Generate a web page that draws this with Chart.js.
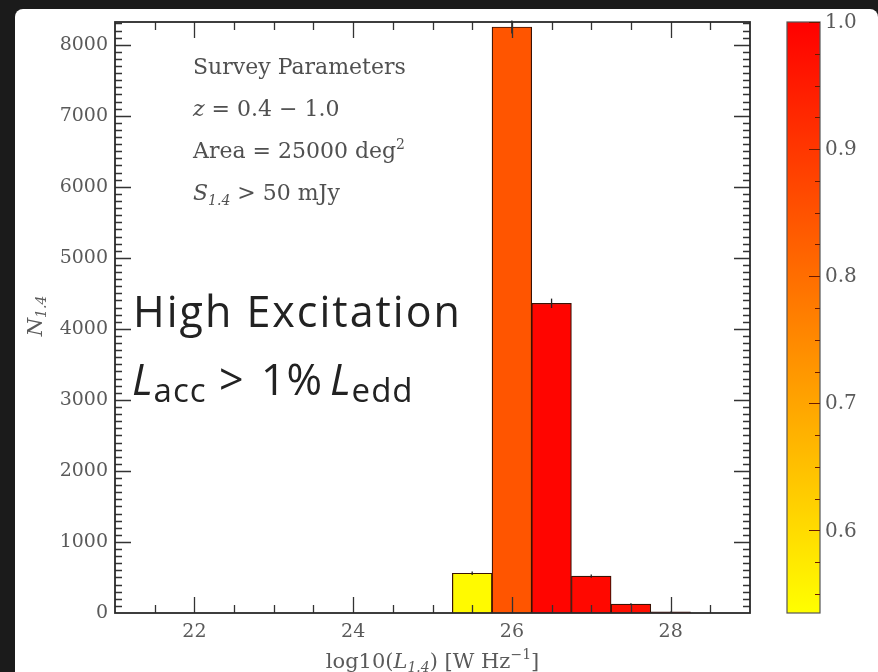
<!DOCTYPE html>
<html>
<head>
<meta charset="utf-8">
<script src="https://cdn.jsdelivr.net/npm/chart.js@4.4.1/dist/chart.umd.min.js"></script>
<style>
html, body { margin: 0; padding: 0; background: #1b1b1b; }
#myChart { display: block; }
</style>
</head>
<body>
<canvas id="myChart" width="878" height="672"></canvas>
<script>
// histogram bins (log10 L_1.4) and counts
var binCenters = [25.5, 26.0, 26.5, 27.0, 27.5, 28.0];
var counts = [560, 8250, 4360, 520, 125, 15];
var countErrors = [24, 91, 66, 23, 11, 4];
// colour value of each bar on the colour bar
var barFraction = [0.545, 0.845, 0.99, 0.985, 0.975, 1.0];

var xTicks = [22, 24, 26, 28];
var yTicks = [0, 1000, 2000, 3000, 4000, 5000, 6000, 7000, 8000];
var cbTicks = [0.6, 0.7, 0.8, 0.9, 1.0];
var cbMin = 0.535, cbMax = 1.0;

var serif = '"DejaVu Serif", "Liberation Serif", serif';
var sans = '"Open Sans", Lato, sans-serif';
var labelColor = '#5a5a5a';

// yellow -> red (autumn_r like)
function cmap(v) {
    var t = (v - cbMin) / (cbMax - cbMin);
    t = Math.max(0, Math.min(1, t));
    var g = Math.round(255 * (1 - t));
    return 'rgb(255,' + g + ',0)';
}

var barColors = barFraction.map(cmap);

// draws a list of text runs, returns end x
function drawRuns(ctx, x, y, runs) {
    runs.forEach(function (r) {
        ctx.font = r.f;
        if (r.x != null) x = r.x;
        ctx.fillText(r.t, x, y + (r.dy || 0));
        x += ctx.measureText(r.t).width;
    });
    return x;
}
function runsWidth(ctx, runs) {
    var w = 0;
    runs.forEach(function (r) { ctx.font = r.f; w += ctx.measureText(r.t).width; });
    return w;
}

var panelPlugin = {
    id: 'panel',
    beforeDraw: function (chart) {
        var ctx = chart.ctx;
        ctx.save();
        ctx.fillStyle = '#1b1b1b';
        ctx.fillRect(0, 0, chart.width, chart.height);
        ctx.fillStyle = '#ffffff';
        ctx.beginPath();
        ctx.roundRect(15, 9, chart.width - 15, chart.height - 9 + 10, 8);
        ctx.fill();
        ctx.restore();
    }
};

var decoPlugin = {
    id: 'deco',
    afterDatasetsDraw: function (chart) {
        var ctx = chart.ctx;
        var xs = chart.scales.x, ys = chart.scales.y, cs = chart.scales.cb;
        var a = chart.chartArea;
        ctx.save();

        // error bars
        ctx.strokeStyle = '#222';
        ctx.lineWidth = 1.3;
        for (var i = 0; i < binCenters.length; i++) {
            var px = xs.getPixelForValue(binCenters[i]);
            ctx.beginPath();
            ctx.moveTo(px, ys.getPixelForValue(counts[i] - countErrors[i]));
            ctx.lineTo(px, ys.getPixelForValue(counts[i] + countErrors[i]));
            ctx.stroke();
        }

        // inward ticks on all four sides
        ctx.strokeStyle = '#333';
        ctx.lineWidth = 1.3;
        ctx.beginPath();
        for (var v = 21.5; v < 29; v += 0.5) {
            var p = Math.round(xs.getPixelForValue(v)) + 0.5;
            var len = (v % 2 === 0) ? 16 : 8;
            ctx.moveTo(p, a.bottom); ctx.lineTo(p, a.bottom - len);
            ctx.moveTo(p, a.top); ctx.lineTo(p, a.top + len);
        }
        for (var n = 100; n < 8400; n += 100) {
            var q = Math.round(ys.getPixelForValue(n)) + 0.5;
            var l2 = (n % 1000 === 0) ? 16 : 7;
            ctx.moveTo(a.left, q); ctx.lineTo(a.left + l2, q);
            ctx.moveTo(a.right, q); ctx.lineTo(a.right - l2, q);
        }
        ctx.stroke();

        // frame
        ctx.lineWidth = 1.8;
        ctx.strokeStyle = '#2a2a2a';
        ctx.strokeRect(a.left, a.top, a.right - a.left, a.bottom - a.top);

        // colour bar
        var cbL = a.right + 37, cbW = 33;
        var top = cs.getPixelForValue(cbMax), bot = cs.getPixelForValue(cbMin);
        var grad = ctx.createLinearGradient(0, bot, 0, top);
        grad.addColorStop(0, cmap(cbMin));
        grad.addColorStop(1, cmap(cbMax));
        ctx.fillStyle = grad;
        ctx.fillRect(cbL, top, cbW, bot - top);
        ctx.lineWidth = 1.2;
        ctx.strokeStyle = '#555';
        ctx.strokeRect(cbL, top, cbW, bot - top);
        ctx.strokeStyle = '#6a1a00';
        ctx.beginPath();
        for (var c = 0.55; c <= 1.0001; c += 0.025) {
            var cy = Math.round(cs.getPixelForValue(c)) + 0.5;
            var major = Math.abs(Math.round(c * 10) - c * 10) < 0.01;
            ctx.moveTo(cbL + cbW, cy); ctx.lineTo(cbL + cbW - (major ? 11 : 5), cy);
        }
        ctx.stroke();
        ctx.fillStyle = labelColor;
        ctx.font = '20px ' + serif;
        ctx.textBaseline = 'middle';
        ctx.textAlign = 'left';
        cbTicks.forEach(function (t) {
            ctx.fillText(t.toFixed(1), cbL + cbW + 5, cs.getPixelForValue(t) + 1);
        });

        // axis titles
        ctx.textBaseline = 'alphabetic';
        var xt = [
            { t: 'log10(', f: '21px ' + serif },
            { t: 'L', f: 'italic 21px ' + serif },
            { t: '1.4', f: 'italic 14px ' + serif, dy: 4 },
            { t: ') [W Hz', f: '21px ' + serif },
            { t: '\u22121', f: '14px ' + serif, dy: -9 },
            { t: ']', f: '21px ' + serif }
        ];
        var xw = runsWidth(ctx, xt);
        drawRuns(ctx, (a.left + a.right) / 2 - xw / 2, 668, xt);

        var yt = [
            { t: 'N', f: 'italic 21px ' + serif },
            { t: '1.4', f: 'italic 14px ' + serif, dy: 4 }
        ];
        ctx.save();
        ctx.translate(42, 316);
        ctx.rotate(-Math.PI / 2);
        drawRuns(ctx, -runsWidth(ctx, yt) / 2, 0, yt);
        ctx.restore();

        // survey parameters
        ctx.fillStyle = '#505050';
        var sx = a.left + 78;
        drawRuns(ctx, sx, 74, [{ t: 'Survey Parameters', f: '22px ' + serif }]);
        drawRuns(ctx, sx, 116, [
            { t: 'z', f: 'italic 22px ' + serif },
            { t: ' = 0.4 \u2212 1.0', f: '22px ' + serif }
        ]);
        drawRuns(ctx, sx, 158, [
            { t: 'Area = 25000 deg', f: '22px ' + serif },
            { t: '2', f: '14px ' + serif, dy: -9 }
        ]);
        drawRuns(ctx, sx, 200, [
            { t: 'S', f: 'italic 22px ' + serif },
            { t: '1.4', f: 'italic 14px ' + serif, dy: 5 },
            { t: ' > 50 mJy', f: '22px ' + serif }
        ]);

        // big label
        ctx.fillStyle = '#222222';
        ctx.letterSpacing = '2px';
        drawRuns(ctx, 133, 327, [{ t: 'High Excitation', f: '500 43px ' + sans }]);
        ctx.letterSpacing = '1px';
        drawRuns(ctx, 132, 395, [
            { t: 'L', f: 'italic 500 43px ' + sans },
            { t: 'acc', f: '500 33px ' + sans, dy: 7 },
            { t: '>', f: '500 43px ' + sans, x: 219 },
            { t: '1%', f: '500 43px ' + sans, x: 261 },
            { t: 'L', f: 'italic 500 43px ' + sans, x: 330 },
            { t: 'edd', f: '500 33px ' + sans, dy: 7 }
        ]);
        ctx.letterSpacing = '0px';

        ctx.restore();
    }
};

var ctx = document.getElementById('myChart').getContext('2d');
var myChart = new Chart(ctx, {
    type: 'bar',
    data: {
        datasets: [{
            label: 'N',
            data: binCenters.map(function (x, i) { return { x: x, y: counts[i] }; }),
            backgroundColor: barColors,
            borderColor: '#3a1205',
            borderWidth: 1.2,
            barPercentage: 1,
            categoryPercentage: 1
        }]
    },
    options: {
        responsive: false,
        animation: false,
        devicePixelRatio: 1,
        layout: {
            padding: { left: 0, top: 22, right: 128, bottom: 0 }
        },
        plugins: {
            legend: { display: false },
            title: { display: false },
            tooltip: { enabled: false }
        },
        scales: {
            x: {
                type: 'linear',
                offset: false,
                min: 21,
                max: 29,
                afterBuildTicks: function (s) { s.ticks = xTicks.map(function (v) { return { value: v }; }); },
                afterFit: function (s) { s.height = 59; },
                grid: { display: false, drawTicks: false },
                border: { display: false },
                ticks: {
                    padding: 8,
                    color: labelColor,
                    font: { family: serif, size: 19 },
                    maxRotation: 0,
                    callback: function (v) { return String(v); }
                }
            },
            y: {
                type: 'linear',
                min: 0,
                max: 8320,
                afterBuildTicks: function (s) { s.ticks = yTicks.map(function (v) { return { value: v }; }); },
                afterFit: function (s) { s.width = 115; },
                grid: { display: false, drawTicks: false },
                border: { display: false },
                ticks: {
                    padding: 7,
                    color: labelColor,
                    font: { family: serif, size: 19 },
                    callback: function (v) { return String(v); }
                }
            },
            cb: {
                type: 'linear',
                position: 'right',
                display: false,
                min: cbMin,
                max: cbMax
            }
        }
    },
    plugins: [panelPlugin, decoPlugin]
});
</script>
</body>
</html>
